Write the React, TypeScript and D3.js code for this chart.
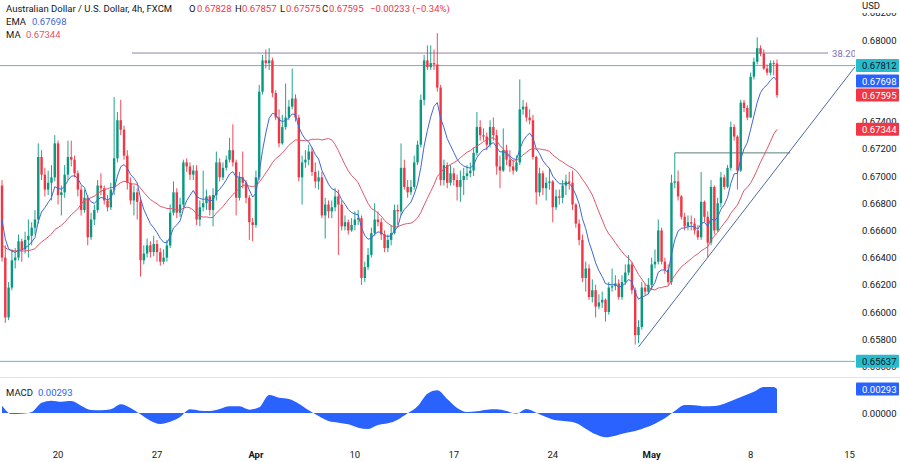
import React from "react";
import * as d3 from "d3";

// ---------- data (AUD/USD 4h, FXCM) ----------
const firstOpen = 0.6693;
const closes = [
0.6640,0.6596,0.6618,0.6638,0.6640,0.6652,0.6646,0.6653,0.6656,0.6662,
0.6668,0.6714,0.6701,0.6690,0.6695,0.6699,0.6724,0.6686,0.6688,0.6701,
0.6714,0.6712,0.6702,0.6690,0.6675,0.6684,0.6655,0.6668,0.6675,0.6693,
0.6691,0.6682,0.6677,0.6690,0.6713,0.6741,0.6734,0.6715,0.6695,0.6682,
0.6688,0.6681,0.6638,0.6643,0.6649,0.6644,0.6650,0.6644,0.6637,0.6640,
0.6649,0.6673,0.6688,0.6673,0.6679,0.6710,0.6707,0.6701,0.6704,0.6668,
0.6677,0.6680,0.6685,0.6675,0.6686,0.6710,0.6699,0.6706,0.6712,0.6719,
0.6710,0.6684,0.6699,0.6695,0.6684,0.6666,0.6664,0.6699,0.6762,0.6785,
0.6783,0.6785,0.6761,0.6743,0.6724,0.6736,0.6743,0.6751,0.6757,0.6743,
0.6699,0.6710,0.6712,0.6718,0.6703,0.6696,0.6699,0.6671,0.6679,0.6674,
0.6677,0.6685,0.6679,0.6663,0.6666,0.6660,0.6664,0.6668,0.6669,0.6625,
0.6633,0.6642,0.6658,0.6668,0.6666,0.6657,0.6647,0.6653,0.6658,0.6675,
0.6674,0.6706,0.6692,0.6688,0.6692,0.6710,0.6723,0.6756,0.6785,0.6780,
0.6783,0.6782,0.6765,0.6697,0.6708,0.6695,0.6702,0.6697,0.6692,0.6697,
0.6700,0.6702,0.6704,0.6717,0.6736,0.6730,0.6729,0.6723,0.6736,0.6730,
0.6707,0.6704,0.6719,0.6712,0.6707,0.6704,0.6710,0.6749,0.6751,0.6743,
0.6741,0.6714,0.6688,0.6702,0.6691,0.6695,0.6696,0.6677,0.6685,0.6684,
0.6693,0.6696,0.6695,0.6679,0.6665,0.6653,0.6625,0.6632,0.6611,0.6616,
0.6604,0.6607,0.6609,0.6600,0.6618,0.6619,0.6621,0.6611,0.6622,0.6629,
0.6635,0.6616,0.6583,0.6589,0.6618,0.6615,0.6620,0.6635,0.6637,0.6660,
0.6637,0.6631,0.6622,0.6695,0.6696,0.6685,0.6670,0.6663,0.6666,0.6665,
0.6660,0.6655,0.6681,0.6670,0.6651,0.6692,0.6660,0.6680,0.6699,0.6692,
0.6706,0.6736,0.6729,0.6704,0.6754,0.6750,0.6743,0.6773,0.6784,0.6794,
0.6790,0.6779,0.6776,0.6783,0.67828,0.67595];

const highs = [
0.6697,0.6649,0.6622,0.6646,0.6647,0.6657,0.6654,0.6659,0.6668,0.6666,
0.6675,0.6724,0.6719,0.6706,0.6704,0.6708,0.6730,0.6726,0.6693,0.6708,
0.6726,0.6726,0.6715,0.6704,0.6693,0.6690,0.6686,0.6673,0.6679,0.6697,
0.6702,0.6693,0.6686,0.6695,0.6758,0.6747,0.6756,0.6737,0.6719,0.6699,
0.6693,0.6691,0.6684,0.6649,0.6654,0.6652,0.6656,0.6653,0.6647,0.6646,
0.6653,0.6679,0.6696,0.6691,0.6684,0.6712,0.6713,0.6710,0.6708,0.6708,
0.6682,0.6704,0.6690,0.6686,0.6691,0.6718,0.6713,0.6710,0.6715,0.6728,
0.6738,0.6712,0.6703,0.6718,0.6697,0.6686,0.6669,0.6704,0.6767,0.6789,
0.6793,0.6794,0.6787,0.6763,0.6749,0.6745,0.6768,0.6756,0.6779,0.6760,
0.6745,0.6715,0.6719,0.6723,0.6721,0.6710,0.6704,0.6703,0.6684,0.6682,
0.6682,0.6691,0.6690,0.6682,0.6671,0.6668,0.6669,0.6674,0.6675,0.6671,
0.6637,0.6647,0.6662,0.6680,0.6674,0.6669,0.6660,0.6657,0.6664,0.6679,
0.6679,0.6724,0.6712,0.6697,0.6697,0.6715,0.6726,0.6760,0.6789,0.6796,
0.6796,0.6793,0.6805,0.6767,0.6712,0.6710,0.6708,0.6706,0.6701,0.6704,
0.6706,0.6708,0.6710,0.6721,0.6747,0.6741,0.6735,0.6732,0.6741,0.6743,
0.6734,0.6715,0.6735,0.6723,0.6719,0.6712,0.6715,0.6771,0.6756,0.6754,
0.6749,0.6745,0.6715,0.6706,0.6704,0.6699,0.6706,0.6697,0.6690,0.6690,
0.6697,0.6701,0.6703,0.6704,0.6680,0.6668,0.6657,0.6637,0.6635,0.6624,
0.6620,0.6613,0.6615,0.6610,0.6622,0.6632,0.6627,0.6624,0.6627,0.6635,
0.6642,0.6637,0.6618,0.6594,0.6622,0.6621,0.6625,0.6640,0.6646,0.6668,
0.6662,0.6640,0.6635,0.6701,0.6717,0.6704,0.6686,0.6673,0.6671,0.6671,
0.6669,0.6664,0.6703,0.6682,0.6674,0.6697,0.6693,0.6684,0.6703,0.6701,
0.6708,0.6740,0.6738,0.6730,0.6756,0.6756,0.6752,0.6776,0.6787,0.6802,
0.6796,0.6793,0.6782,0.6785,0.6785,0.67857];

const lows = [
0.6637,0.6592,0.6594,0.6616,0.6632,0.6638,0.6637,0.6643,0.6640,0.6649,
0.6657,0.6665,0.6697,0.6685,0.6686,0.6682,0.6696,0.6679,0.6671,0.6684,
0.6697,0.6707,0.6699,0.6685,0.6671,0.6673,0.6649,0.6653,0.6664,0.6673,
0.6686,0.6679,0.6674,0.6675,0.6686,0.6710,0.6730,0.6712,0.6690,0.6679,
0.6671,0.6668,0.6626,0.6635,0.6640,0.6640,0.6641,0.6637,0.6634,0.6635,
0.6637,0.6647,0.6671,0.6669,0.6670,0.6677,0.6703,0.6697,0.6697,0.6664,
0.6663,0.6674,0.6675,0.6671,0.6663,0.6682,0.6696,0.6697,0.6704,0.6710,
0.6707,0.6671,0.6682,0.6691,0.6680,0.6653,0.6652,0.6662,0.6697,0.6760,
0.6779,0.6778,0.6758,0.6741,0.6721,0.6723,0.6734,0.6741,0.6749,0.6740,
0.6696,0.6679,0.6706,0.6708,0.6700,0.6691,0.6690,0.6669,0.6654,0.6669,
0.6669,0.6674,0.6642,0.6660,0.6660,0.6657,0.6659,0.6660,0.6664,0.6620,
0.6622,0.6631,0.6640,0.6656,0.6663,0.6653,0.6644,0.6644,0.6649,0.6657,
0.6664,0.6671,0.6690,0.6684,0.6686,0.6690,0.6708,0.6721,0.6752,0.6778,
0.6778,0.6778,0.6762,0.6693,0.6693,0.6691,0.6693,0.6693,0.6682,0.6681,
0.6686,0.6697,0.6699,0.6700,0.6715,0.6726,0.6726,0.6719,0.6721,0.6726,
0.6701,0.6691,0.6703,0.6708,0.6703,0.6701,0.6703,0.6708,0.6745,0.6740,
0.6738,0.6712,0.6679,0.6685,0.6686,0.6682,0.6690,0.6666,0.6675,0.6679,
0.6680,0.6686,0.6690,0.6675,0.6662,0.6649,0.6622,0.6615,0.6609,0.6607,
0.6596,0.6602,0.6603,0.6593,0.6598,0.6615,0.6616,0.6609,0.6609,0.6620,
0.6627,0.6613,0.6576,0.6577,0.6587,0.6612,0.6613,0.6616,0.6632,0.6635,
0.6635,0.6628,0.6620,0.6620,0.6691,0.6682,0.6668,0.6660,0.6660,0.6660,
0.6657,0.6653,0.6653,0.6666,0.6640,0.6649,0.6657,0.6659,0.6677,0.6690,
0.6691,0.6704,0.6726,0.6690,0.6703,0.6747,0.6741,0.6743,0.6771,0.6782,
0.6788,0.6778,0.6774,0.6774,0.6774,0.67575];

// MACD read every 3 bars (last value on the final bar)
const macdStep = 3;
const macdValues = [
0.00090,-0.00012,-0.00008,0.00012,0.00126,0.00151,0.00138,0.00147,0.00090,0.00037,
0.00033,0.00045,0.00106,0.00061,-0.00016,-0.00094,-0.00134,-0.00106,-0.00049,0.00045,
0.00028,0.00024,0.00049,0.00081,0.00081,0.00041,0.00069,0.00220,0.00187,0.00171,
0.00114,0.00033,-0.00037,-0.00098,-0.00118,-0.00138,-0.00179,-0.00195,-0.00147,-0.00126,
-0.00081,-0.00004,0.00081,0.00236,0.00277,0.00171,0.00061,0.00012,0.00020,0.00041,
0.00045,0.00024,-0.00008,0.00049,0.00004,-0.00049,-0.00090,-0.00102,-0.00122,-0.00191,
-0.00260,-0.00297,-0.00277,-0.00244,-0.00220,-0.00179,-0.00130,-0.00065,0.00024,0.00098,
0.00094,0.00081,0.00085,0.00114,0.00163,0.00212,0.00260,0.00318,0.00318,0.00293];

const emaPeriod = 9;
const emaSeed = 0.6675;
const maPeriod = 23;
const maSeed = 0.665;

const weekLabels = ["20", "27", "Apr", "10", "17", "24", "May", "8", "15"];
const weekStartBars = [17, 47, 77, 107, 137, 167, 197, 227, 257];
const boldLabels = ["Apr", "May"];
const priceTicks = [0.682, 0.68, 0.678, 0.676, 0.674, 0.672, 0.67, 0.668, 0.666, 0.664, 0.662, 0.66, 0.658, 0.656];

const fibLevel = 0.67904;
const fibBars = [39.4, 250.5];
const resistance = 0.67812;
const support = 0.65637;
const breakoutLevel = 0.6717;
const breakoutBars = [204, 239];
const trendStart = [193, 0.65743];
const trendEnd = [258.6, 0.67801];

const lastEma = 0.67698;
const lastMa = 0.67344;
const lastMacd = 0.00293;

const FONT = "Roboto, 'DejaVu Sans', sans-serif";
const GREEN = "#089981";
const RED = "#f23645";
const BLUE = "#2962ff";
const CYAN = "#4fbfcc";
const TEXT = "#131722";

export default function App() {
  const W = 900, H = 462;
  const plotRight = 855;
  const n = closes.length;
  const x = d3.scaleLinear().domain([0, n - 1]).range([2, 777]);
  const y = d3.scaleLinear().domain([0.658, 0.68]).range([339.2, 40]);
  const my = d3.scaleLinear().domain([0, 0.00293]).range([413, 389]);

  const bars = closes.map((c, i) => {
    const o = i === 0 ? firstOpen : closes[i - 1];
    return { i, o, c, h: Math.max(highs[i], o, c), l: Math.min(lows[i], o, c) };
  });

  const alpha = 2 / (emaPeriod + 1);
  let e = emaSeed;
  const ema = closes.map((c) => (e = e + alpha * (c - e)));
  const ma = closes.map((_, i) => {
    let s = 0;
    for (let k = i - maPeriod + 1; k <= i; k++) s += k >= 0 ? closes[k] : maSeed;
    return s / maPeriod;
  });

  const line = d3.line<number>().x((_, i) => x(i)).y((d) => y(d));
  const macdPts: [number, number][] = macdValues.map((v, k) => [Math.min(k * macdStep, n - 1), v]);
  const area = d3
    .area<[number, number]>()
    .x((d) => x(d[0]))
    .y0(my(0))
    .y1((d) => my(d[1]))
    .curve(d3.curveMonotoneX);

  const bw = 2.4;
  const last = bars[n - 1];
  const chg = last.c - last.o;

  const boxes = [
    { v: resistance, bg: "#26bccd", fg: TEXT },
    { v: lastEma, bg: BLUE, fg: "#fff" },
    { v: last.c, bg: RED, fg: "#fff" },
    { v: lastMa, bg: RED, fg: "#fff" },
    { v: support, bg: "#26bccd", fg: TEXT },
  ];

  const f5 = d3.format(".5f");
  const signed = (v: number) => (v < 0 ? "\u2212" + f5(-v) : f5(v));

  return (
    <svg
      width={W}
      height={H}
      style={{ position: "absolute", left: 0, top: 0, background: "#fff" }}
      fontFamily={FONT}
    >
      <defs>
        <clipPath id="plot">
          <rect x={0} y={0} width={plotRight} height={372} />
        </clipPath>
        <clipPath id="axisClip">
          <rect x={plotRight} y={13} width={W - plotRight} height={359} />
        </clipPath>
        <clipPath id="macdClip">
          <rect x={0} y={378} width={plotRight} height={62} />
        </clipPath>
        <clipPath id="timeClip">
          <rect x={0} y={440} width={plotRight} height={22} />
        </clipPath>
      </defs>
      <rect x={0} y={0} width={W} height={H} fill="#fff" />

      <g clipPath="url(#plot)">
        {/* levels */}
        <line x1={0} x2={plotRight} y1={y(resistance)} y2={y(resistance)} stroke={CYAN} strokeWidth={1} />
        <line x1={0} x2={plotRight} y1={y(support)} y2={y(support)} stroke={CYAN} strokeWidth={1} />
        <line x1={x(fibBars[0])} x2={x(fibBars[1])} y1={y(fibLevel)} y2={y(fibLevel)} stroke="#8f84a8" strokeWidth={1} />
        <text x={x(fibBars[1]) + 4} y={y(fibLevel) + 3.5} fontSize={9.5} fill="#7e6bb0">38.20</text>
        <line x1={x(breakoutBars[0])} x2={x(breakoutBars[1])} y1={y(breakoutLevel)} y2={y(breakoutLevel)} stroke="#5a7d7c" strokeWidth={1} />
        <line x1={x(trendStart[0])} y1={y(trendStart[1])} x2={x(trendEnd[0])} y2={y(trendEnd[1])} stroke="#4c6b9c" strokeWidth={1} />

        {/* candles */}
        {bars.map((b) => {
          const col = b.c >= b.o ? GREEN : RED;
          const top = y(Math.max(b.o, b.c));
          const bot = y(Math.min(b.o, b.c));
          return (
            <g key={b.i}>
              <line x1={x(b.i)} x2={x(b.i)} y1={y(b.h)} y2={y(b.l)} stroke={col} strokeWidth={0.9} />
              <rect x={x(b.i) - bw / 2} y={top} width={bw} height={Math.max(1, bot - top)} fill={col} />
            </g>
          );
        })}

        {/* MA lines */}
        <path d={line(ma) || ""} fill="none" stroke="#e0566a" strokeWidth={1} />
        <path d={line(ema) || ""} fill="none" stroke="#3f67d4" strokeWidth={1} />
      </g>

      {/* legend */}
      <text x={6} y={11.5} fontSize={9.5} fill={TEXT}>
        Australian Dollar / U.S. Dollar, 4h, FXCM
      </text>
      <text y={11.5} fontSize={9.5}>
        <tspan x={189} fill={TEXT}>O</tspan>
        <tspan x={197} fill={RED}>{f5(last.o)}</tspan>
        <tspan x={235} fill={TEXT}>H</tspan>
        <tspan x={242} fill={RED}>{f5(last.h)}</tspan>
        <tspan x={280} fill={TEXT}>L</tspan>
        <tspan x={286} fill={RED}>{f5(last.l)}</tspan>
        <tspan x={322} fill={TEXT}>C</tspan>
        <tspan x={329} fill={RED}>{f5(last.c)}</tspan>
        <tspan x={370} fill={RED}>{`${signed(chg)} (${chg < 0 ? "\u2212" : "+"}${Math.abs((chg / last.o) * 100).toFixed(2)}%)`}</tspan>
      </text>
      <text y={24.5} fontSize={9.5}>
        <tspan x={6} fill={TEXT}>EMA</tspan>
        <tspan x={32} fill="#3f67d4">{f5(lastEma)}</tspan>
      </text>
      <text y={37.5} fontSize={9.5}>
        <tspan x={6} fill={TEXT}>MA</tspan>
        <tspan x={26} fill="#e0566a">{f5(lastMa)}</tspan>
      </text>

      {/* price axis */}
      <text x={862} y={9} fontSize={9.5} fill={TEXT}>USD</text>
      <g clipPath="url(#axisClip)">
        {priceTicks.map((p) => (
          <text key={p} x={862} y={y(p) + 3.5} fontSize={9.5} fill={TEXT}>
            {f5(p)}
          </text>
        ))}
        {boxes.map((b, k) => (
          <g key={k}>
            <rect x={856} y={y(b.v) - 6.5} width={43} height={13} fill={b.bg} rx={1} />
            <text x={862} y={y(b.v) + 3.5} fontSize={9.5} fill={b.fg}>
              {f5(b.v)}
            </text>
          </g>
        ))}
      </g>

      {/* pane separator */}
      <line x1={0} x2={W} y1={377.5} y2={377.5} stroke="#e0e3eb" strokeWidth={1} />

      {/* MACD pane */}
      <g clipPath="url(#macdClip)">
        <path d={area(macdPts) || ""} fill={BLUE} />
      </g>
      <text y={396} fontSize={9.5}>
        <tspan x={6} fill={TEXT}>MACD</tspan>
        <tspan x={38} fill={BLUE}>{f5(lastMacd)}</tspan>
      </text>
      <text x={862} y={my(0) + 3.5} fontSize={9.5} fill={TEXT}>{f5(0)}</text>
      <rect x={856} y={my(lastMacd) - 6.5} width={43} height={13} fill={BLUE} rx={1} />
      <text x={862} y={my(lastMacd) + 3.5} fontSize={9.5} fill="#fff">{f5(lastMacd)}</text>

      {/* time axis */}
      <g clipPath="url(#timeClip)">
        {weekLabels.map((lab, k) => (
          <text
            key={lab}
            x={x(weekStartBars[k])}
            y={458}
            fontSize={9.5}
            textAnchor="middle"
            fill={TEXT}
            fontWeight={boldLabels.includes(lab) ? 700 : 400}
          >
            {lab}
          </text>
        ))}
      </g>
    </svg>
  );
}
